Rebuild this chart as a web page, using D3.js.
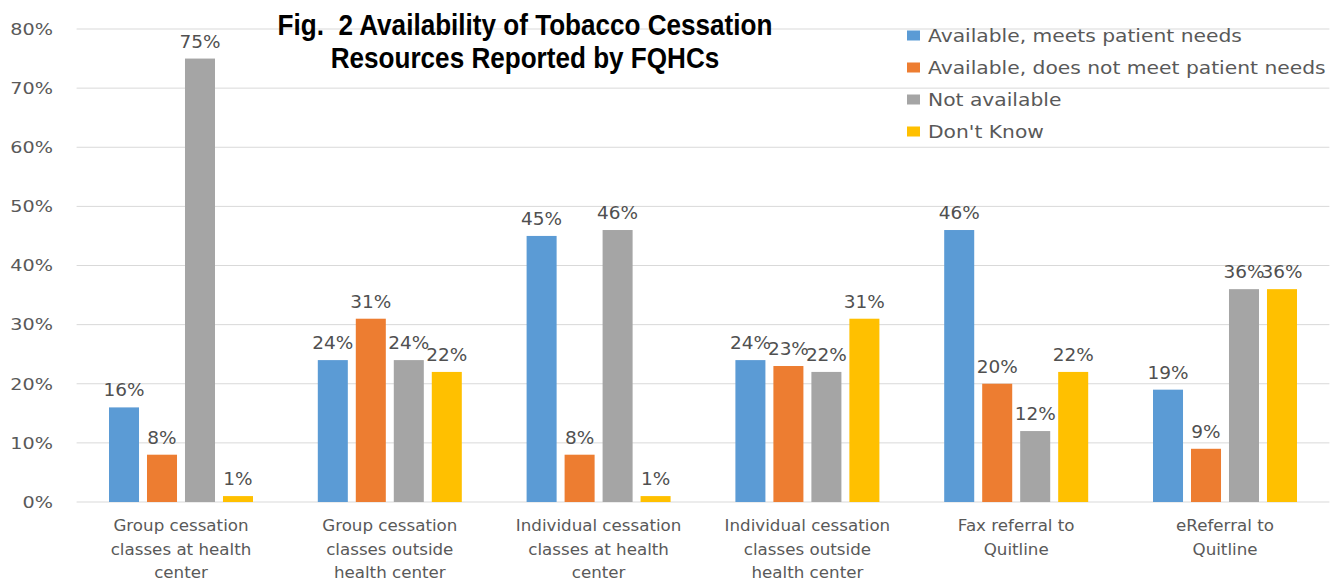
<!DOCTYPE html>
<html lang="en">
<head>
    <meta charset="UTF-8">
    <title>Availability of Tobacco Cessation Resources</title>
    <script src="https://d3js.org/d3.v7.min.js"></script>
    <style>
        body { margin: 0; background: #fff; }
        svg text { font-family: "DejaVu Sans", Verdana, sans-serif; }
    </style>
</head>
<body>
    <div id="chart"></div>

    <script>

        // Data
        var categories = [
            ["Group cessation", "classes at health", "center"],
            ["Group cessation", "classes outside", "health center"],
            ["Individual cessation", "classes at health", "center"],
            ["Individual cessation", "classes outside", "health center"],
            ["Fax referral to", "Quitline"],
            ["eReferral to", "Quitline"]
        ];
        var seriesNames = ["Available, meets patient needs", "Available, does not meet patient needs", "Not available", "Don't Know"];
        var seriesColors = ["#5B9BD5", "#ED7D31", "#A5A5A5", "#FFC000"];
        var meetsNeeds   = [0.16, 0.24, 0.45, 0.24, 0.46, 0.19];
        var notMeetNeeds = [0.08, 0.31, 0.08, 0.23, 0.20, 0.09];
        var notAvailable = [0.75, 0.24, 0.46, 0.22, 0.12, 0.36];
        var dontKnow     = [0.01, 0.22, 0.01, 0.31, 0.22, 0.36];
        var yTicks = [0, 0.1, 0.2, 0.3, 0.4, 0.5, 0.6, 0.7, 0.8];

        var seriesValues = [meetsNeeds, notMeetNeeds, notAvailable, dontKnow];

        var width = 1333, height = 581;
        var pct = d3.format(".0%");

        var svg = d3.select("#chart")
            .append("svg")
                .attr("width", width)
                .attr("height", height);

        // X scales
        var catIdx = categories.map(function(d, i) { return i; });
        var x = d3.scaleBand()
            .domain(catIdx)
            .range([76.6, 1329.4]);
        var xInner = d3.scaleBand()
            .domain(d3.range(seriesNames.length))
            .range([32.4, 176.4])
            .paddingInner(0.21)
            .paddingOuter(0);

        // Y scale
        var y = d3.scaleLinear()
            .domain([0, 0.8])
            .range([502, 29]);

        // gridlines
        svg.append("g")
            .selectAll("line")
            .data(yTicks)
            .enter()
            .append("line")
                .attr("x1", 76.6)
                .attr("x2", 1329.4)
                .attr("y1", function(d) { return y(d); })
                .attr("y2", function(d) { return y(d); })
                .attr("stroke", "#d9d9d9")
                .attr("stroke-width", 1);

        // Y axis labels (source image is a bit stretched sideways)
        svg.append("g")
            .selectAll("text")
            .data(yTicks)
            .enter()
            .append("text")
                .attr("transform", function(d) { return "translate(53," + y(d) + ") scale(1.2,1)"; })
                .attr("dy", "0.36em")
                .attr("text-anchor", "end")
                .attr("fill", "#595959")
                .style("font-size", "16px")
                .text(pct);

        // Bars + labels
        var groups = svg.selectAll(".cat")
            .data(catIdx)
            .enter()
            .append("g")
                .attr("class", "cat")
                .attr("transform", function(d) { return "translate(" + x(d) + ",0)"; });

        groups.selectAll("rect")
            .data(function(c) { return seriesValues.map(function(s, j) { return {s: j, v: s[c]}; }); })
            .enter()
            .append("rect")
                .attr("x", function(d) { return xInner(d.s); })
                .attr("y", function(d) { return y(d.v); })
                .attr("width", xInner.bandwidth())
                .attr("height", function(d) { return y(0) - y(d.v); })
                .attr("fill", function(d) { return seriesColors[d.s]; });

        groups.selectAll(".val")
            .data(function(c) { return seriesValues.map(function(s, j) { return {s: j, v: s[c]}; }); })
            .enter()
            .append("text")
                .attr("class", "val")
                .attr("transform", function(d) {
                    return "translate(" + (xInner(d.s) + xInner.bandwidth() / 2) + "," + (y(d.v) - 11) + ") scale(1.1,1)";
                })
                .attr("text-anchor", "middle")
                .attr("fill", "#505050")
                .style("font-size", "16.8px")
                .text(function(d) { return pct(d.v); });

        // Category labels
        groups.append("text")
            .attr("text-anchor", "middle")
            .attr("fill", "#595959")
            .style("font-size", "16.7px")
            .selectAll("tspan")
            .data(function(c) { return categories[c]; })
            .enter()
            .append("tspan")
                .attr("x", x.bandwidth() / 2)
                .attr("y", function(d, i) { return 531 + i * 23.5; })
                .text(function(d) { return d; });

        // Title (condensed look via horizontal scale)
        var title = svg.append("text")
            .attr("text-anchor", "middle")
            .attr("fill", "#000")
            .attr("transform", "translate(525,0) scale(0.9,1)")
            .style("font-family", "'Liberation Sans', Arial, sans-serif")
            .style("font-weight", "bold")
            .style("font-size", "29px")
            .style("white-space", "pre");
        title.append("tspan").attr("x", 0).attr("y", 35).text("Fig.  2 Availability of Tobacco Cessation");
        title.append("tspan").attr("x", 0).attr("y", 68).text("Resources Reported by FQHCs");

        // Legend
        var legend = svg.append("g")
            .selectAll("g")
            .data(seriesNames)
            .enter()
            .append("g")
                .attr("transform", function(d, i) { return "translate(907," + (35.5 + i * 32) + ")"; });
        legend.append("rect")
            .attr("x", 0)
            .attr("y", -5)
            .attr("width", 13)
            .attr("height", 10)
            .attr("fill", function(d, i) { return seriesColors[i]; });
        legend.append("text")
            .attr("transform", "translate(21,0) scale(1.158,1)")
            .attr("dy", "0.36em")
            .attr("fill", "#595959")
            .style("font-size", "17.5px")
            .text(function(d) { return d; });

    </script>

</body>
</html>
